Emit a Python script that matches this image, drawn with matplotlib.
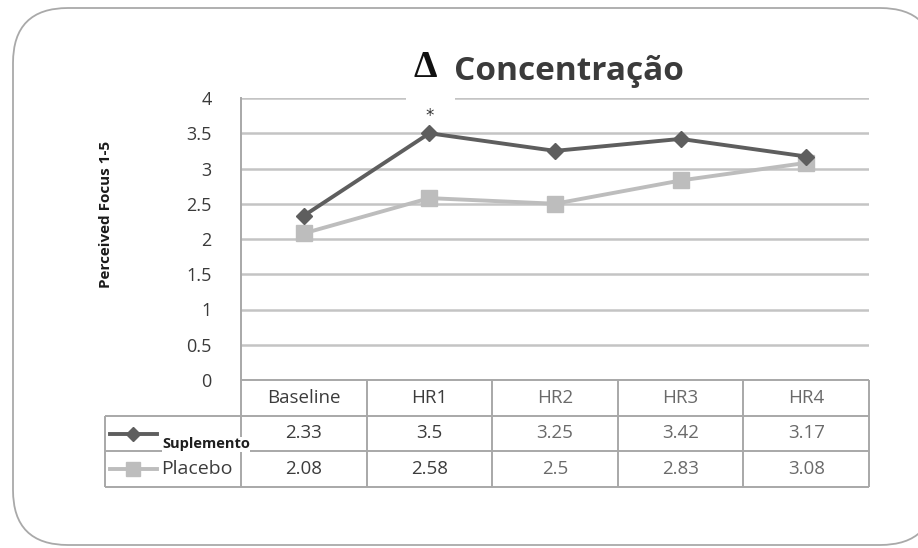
import matplotlib
matplotlib.use("Agg")
import matplotlib.pyplot as plt
from matplotlib.patches import FancyBboxPatch, Rectangle
from matplotlib.lines import Line2D

# ---- data -------------------------------------------------------------
timepoints = ["Baseline", "HR1", "HR2", "HR3", "HR4"]
suplemento = [2.33, 3.5, 3.25, 3.42, 3.17]
placebo = [2.08, 2.58, 2.5, 2.83, 3.08]
series_names = ["Suplemento", "Placebo"]
y_ticks = [0, 0.5, 1, 1.5, 2, 2.5, 3, 3.5, 4]
y_tick_labels = ["0", "0.5", "1", "1.5", "2", "2.5", "3", "3.5", "4"]
significant_index = 1  # HR1 marked with *

# ---- styling ----------------------------------------------------------
W, H = 918, 548
DPI = 100
SANS = ["Open Sans", "DejaVu Sans"]
DARK = "#5e5e5e"
LIGHT = "#bdbdbd"
GRID = "#c4c4c4"
TABLE_LINE = "#a8a8a8"

plt.rcParams["font.family"] = SANS

fig = plt.figure(figsize=(W / DPI, H / DPI), dpi=DPI)
fig.patch.set_facecolor("white")


def px(x0, y0, x1, y1):
    """Axes rectangle from pixel box (top-left origin)."""
    return [x0 / W, 1 - y1 / H, (x1 - x0) / W, (y1 - y0) / H]


# rounded outer frame (in inches so the corners stay circular)
frame = FancyBboxPatch((13 / DPI, 3 / DPI), (935 - 13) / DPI, (540 - 3) / DPI,
                       boxstyle="round,pad=0,rounding_size=0.55",
                       transform=fig.dpi_scale_trans, facecolor="white",
                       edgecolor="#a9a9a9", linewidth=1.3, zorder=-5)
fig.patches.append(frame)

# ---- line chart ---------------------------------------------------------
ax = fig.add_axes(px(241, 98, 869, 380))
x = range(len(timepoints))
ax.plot(x, suplemento, color=DARK, lw=2.8, marker="D", ms=8.5,
        markeredgecolor=DARK, zorder=4)
ax.plot(x, placebo, color=LIGHT, lw=2.8, marker="s", ms=11.5,
        markeredgecolor=LIGHT, zorder=3)
ax.annotate("*", (significant_index, suplemento[significant_index]),
            xytext=(0, 6), textcoords="offset points", ha="center",
            va="bottom", fontsize=12, color="#333333",
            family=["DejaVu Sans"])

ax.set_xlim(-0.5, len(timepoints) - 0.5)
ax.set_ylim(0, 4)
ax.set_yticks(y_ticks)
ax.set_yticklabels(y_tick_labels, fontsize=13, color="#3a3a3a")
ax.set_xticks([])
ax.tick_params(axis="y", length=0, pad=21)
ax.yaxis.grid(True, color=GRID, lw=1.8)
ax.set_axisbelow(True)
for side in ["top", "right", "bottom"]:
    ax.spines[side].set_visible(False)
ax.spines["left"].set_color(TABLE_LINE)
ax.spines["left"].set_linewidth(1.4)

fig.text(106 / W, 1 - 214 / H, "Perceived Focus 1-5", rotation=90,
         ha="center", va="center", fontsize=11, fontweight="bold",
         color="#1a1a1a")

# title: serif delta on a white tile, then the word
fig.patches.append(Rectangle((406 / W, 1 - 104 / H), 49 / W, 50 / H,
                             transform=fig.transFigure, facecolor="white",
                             edgecolor="none", zorder=2))
fig.text(425 / W, 1 - 77 / H, "\u0394", ha="center", va="baseline",
         fontsize=27, fontweight="bold", family=["Liberation Serif", "DejaVu Serif"],
         color="#111111", zorder=3)
fig.text(454 / W, 1 - 80 / H, "Concentra\u00e7\u00e3o", ha="left", va="baseline",
         fontsize=24, fontweight="bold", family=["Open Sans", "DejaVu Sans"],
         color="#3b3b3b", zorder=3)

# ---- data table ---------------------------------------------------------
tax = fig.add_axes(px(241, 380, 869, 487))
n = len(timepoints)
tax.set_xlim(-0.5, n - 0.5)
tax.set_ylim(3, 0)
tax.axis("off")
label_left = -0.5 - 136 / 125.6

lk = dict(color=TABLE_LINE, lw=1.4, clip_on=False, solid_capstyle="butt")
tax.plot([-0.5, n - 0.5], [0, 0], **lk)
for r in (1, 2, 3):
    tax.plot([label_left, n - 0.5], [r, r], **lk)
for c in range(n + 1):
    tax.plot([c - 0.5, c - 0.5], [0, 3], **lk)
tax.plot([label_left, label_left], [1, 3], **lk)

dark_txt, light_txt = "#3c3c3c", "#6a6a6a"
for i, name in enumerate(timepoints):
    col = dark_txt if i < 2 else light_txt
    tax.text(i, 0.5, name, ha="center", va="center", fontsize=13.5, color=col)
    tax.text(i, 1.5, f"{suplemento[i]:g}", ha="center", va="center",
             fontsize=13.5, color=col)
    tax.text(i, 2.5, f"{placebo[i]:g}", ha="center", va="center",
             fontsize=13.5, color=col)

# legend keys inside the label column
kx0 = label_left + 5 / 125.6
kx1 = label_left + 52 / 125.6
kxm = (kx0 + kx1) / 2
tax.add_line(Line2D([kx0, kx1], [1.5, 1.5], color=DARK, lw=2.8, clip_on=False))
tax.add_line(Line2D([kxm], [1.5], color=DARK, marker="D", ms=7, clip_on=False))
tax.add_line(Line2D([kx0, kx1], [2.5, 2.5], color=LIGHT, lw=2.8, clip_on=False))
tax.add_line(Line2D([kxm], [2.5], color=LIGHT, marker="s", ms=10, clip_on=False))
tax.text(label_left + 57 / 125.6, 1.8, series_names[0], ha="left", va="center",
         fontsize=10.5, fontweight="bold", color="#1e1e1e", zorder=5,
         bbox=dict(facecolor="white", edgecolor="none", pad=0.3))
tax.text(label_left + 56 / 125.6, 2.5, series_names[1], ha="left", va="center",
         fontsize=14, color="#3c3c3c")

fig.savefig("out.png", dpi=DPI, facecolor="white")
